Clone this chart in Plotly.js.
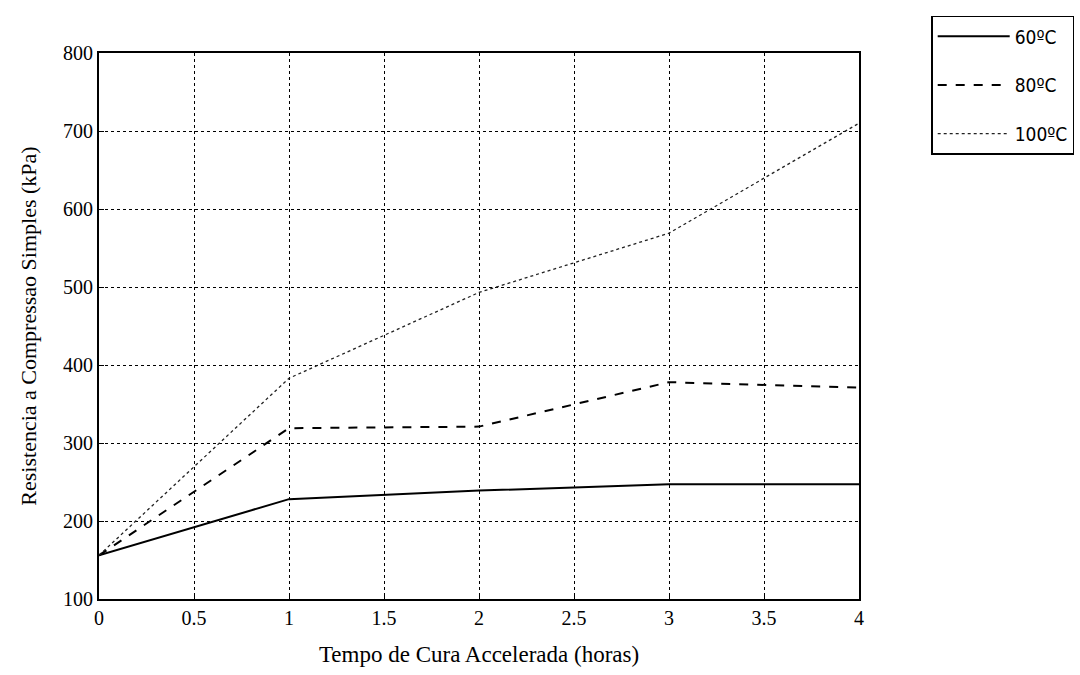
<!DOCTYPE html>
<html>
<head>
<meta charset="utf-8">
<script src="https://cdn.plot.ly/plotly-3.0.1.min.js"></script>
<style>html,body{margin:0;padding:0;background:#fff;}#chart{width:1080px;height:675px;}</style>
</head>
<body>
<div id="chart"></div>
<script>
const hours = [0, 1, 2, 3, 4];
const series60 = [156, 228, 239, 247, 247];
const series80 = [156, 319, 321, 378, 371];
const series100 = [156, 383, 493, 569, 710];
const seriesNames = ["60ºC", "80ºC", "100ºC"];
const xTicks = [0, 0.5, 1, 1.5, 2, 2.5, 3, 3.5, 4];
const xTickLabels = ["0", "0.5", "1", "1.5", "2", "2.5", "3", "3.5", "4"];
const yTicks = [100, 200, 300, 400, 500, 600, 700, 800];

const serif = "Liberation Serif, Times New Roman, serif";
const traces = [
  {x: hours, y: series60, name: seriesNames[0], legendgroup: "a", mode: "lines", line: {color: "#000", width: 2, dash: "solid"}},
  {x: hours, y: series80, name: seriesNames[1], legendgroup: "b", mode: "lines", line: {color: "#000", width: 2, dash: "dash"}},
  {x: hours, y: series100, name: seriesNames[2], legendgroup: "c", mode: "lines", line: {color: "#222", width: 1.3, dash: "dot"}}
];
const layout = {
  width: 1080, height: 675,
  paper_bgcolor: "#fff", plot_bgcolor: "#fff",
  margin: {l: 99, r: 221, t: 53, b: 76, autoexpand: false},
  showlegend: true,
  legend: {
    x: 1.095, y: 1.068, xanchor: "left", yanchor: "top",
    bordercolor: "#000", borderwidth: 1.5, bgcolor: "#fff",
    font: {family: "DejaVu Sans Condensed, Liberation Sans Narrow, Arial Narrow, sans-serif", size: 19, color: "#000"},
    itemwidth: 72, tracegroupgap: 21
  },
  xaxis: {
    range: [0, 4], tickvals: xTicks, ticktext: xTickLabels,
    showgrid: true, gridcolor: "#000", griddash: "dot", gridwidth: 1,
    showline: true, linecolor: "#000", linewidth: 2, mirror: true,
    ticks: "inside", ticklen: 5, tickcolor: "#000",
    zeroline: false,
    tickfont: {family: serif, size: 20, color: "#000"},
    title: {text: "Tempo de Cura Accelerada (horas)", font: {family: serif, size: 23, color: "#000"}, standoff: 18}
  },
  yaxis: {
    range: [100, 800], tickvals: yTicks,
    showgrid: true, gridcolor: "#000", griddash: "dot", gridwidth: 1,
    showline: true, linecolor: "#000", linewidth: 2, mirror: true,
    ticks: "inside", ticklen: 5, tickcolor: "#000",
    zeroline: false,
    tickfont: {family: serif, size: 20, color: "#000"},
    title: {text: "Resistencia a Compressao Simples (kPa)", font: {family: serif, size: 22, color: "#000"}, standoff: 20}
  }
};
Plotly.newPlot("chart", traces, layout, {displayModeBar: false, staticPlot: true});
</script>
</body>
</html>
